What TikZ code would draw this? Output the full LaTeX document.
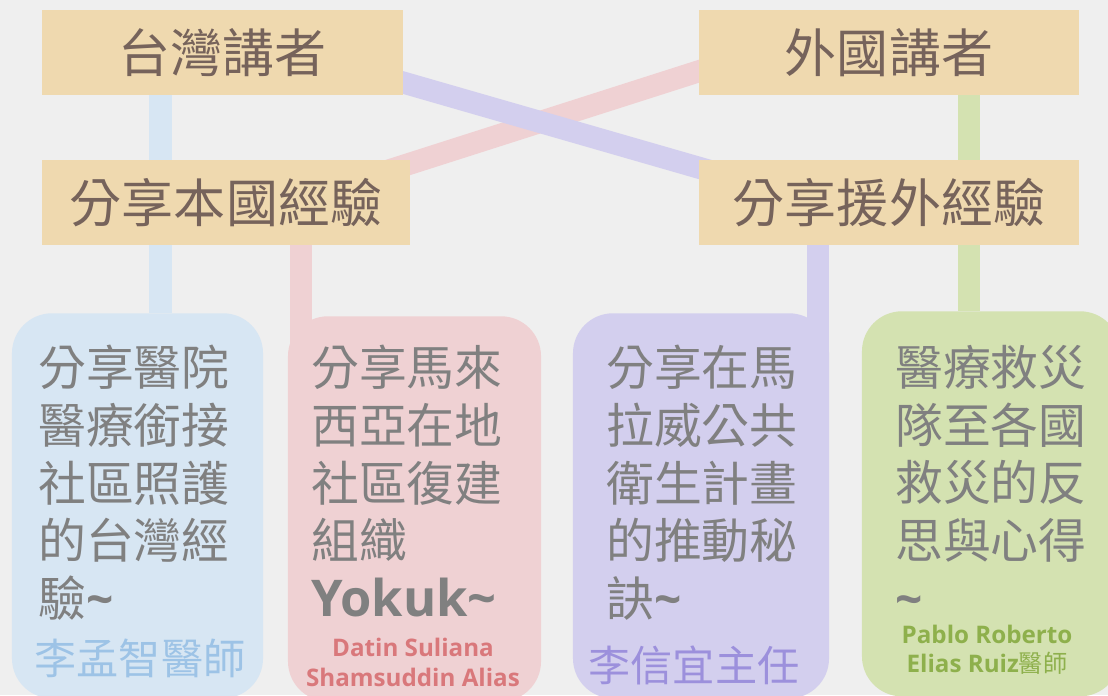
\documentclass[tikz,border=0pt]{standalone}
\usepackage{fontspec}
\newfontfamily\cjk{Noto Sans CJK TC}
\newfontfamily\latin{Open Sans}
\usetikzlibrary{backgrounds}

\definecolor{bgcol}{HTML}{EFEFEF}
\definecolor{beige}{HTML}{EFD9AF}
\definecolor{titletext}{HTML}{76635B}
\definecolor{desctext}{HTML}{808080}
\definecolor{bluebox}{HTML}{D7E6F3}
\definecolor{bluename}{HTML}{9DC3E6}
\definecolor{redbox}{HTML}{EFD1D3}
\definecolor{redname}{HTML}{D9787B}
\definecolor{purplebox}{HTML}{D3CFEE}
\definecolor{purplename}{HTML}{9C90DC}
\definecolor{greenbox}{HTML}{D4E2B1}
\definecolor{greenname}{HTML}{8EB04C}

\newcommand\wavemark{{\latin\bfseries\textasciitilde}}

\tikzset{
  topic/.style={fill=beige, text=titletext, inner sep=0pt,
                minimum height=2.125cm, font=\cjk\fontsize{37}{44}\selectfont},
  talk/.style={fill=#1, rounded corners=1cm, anchor=north, minimum height=9.625cm},
  link/.style={draw=#1, line width=0.55cm},
  desc/.style={text=desctext, anchor=north west, align=left, inner sep=0pt,
               font=\cjk\fontsize{34}{41}\selectfont},
  speaker/.style={align=center, inner sep=0pt}
}

\begin{document}
\begin{tikzpicture}[x=0.025cm, y=-0.025cm]
  \useasboundingbox (0,0) rectangle (1108,695);
  % Speakers and topics
  \node[topic, minimum width=9.025cm] (tw)   at (222.5,52.5)  {台灣講者};
  \node[topic, minimum width=9.5cm]   (fg)   at (889,52.5)    {外國講者};
  \node[topic, minimum width=9.2cm]   (home) at (226,202.5)   {分享本國經驗};
  \node[topic, minimum width=9.5cm]   (aid)  at (889,202.5)   {分享援外經驗};
  % Talks
  \node[talk=bluebox,   minimum width=6.275cm] (t1) at (137.5,313) {};
  \node[talk=redbox,    minimum width=6.325cm] (t2) at (414.5,316) {};
  \node[talk=purplebox, minimum width=6.4cm]   (t3) at (701,313)   {};
  \node[talk=greenbox,  minimum width=6.45cm]  (t4) at (991,311)   {};
  \node[desc] (d1) at (38,345)  {分享醫院\\醫療銜接\\社區照護\\的台灣經\\驗\wavemark};
  \node[desc] (d2) at (311,345) {分享馬來\\西亞在地\\社區復建\\組織\\%
        {\latin\bfseries\fontsize{36}{41}\selectfont Yokuk\textasciitilde}};
  \node[desc] (d3) at (606,345) {分享在馬\\拉威公共\\衛生計畫\\的推動秘\\訣\wavemark};
  \node[desc] (d4) at (895,345) {醫療救災\\隊至各國\\救災的反\\思與心得\\\wavemark};
  \node[speaker, text=bluename, font=\cjk\fontsize{30}{36}\selectfont]
        (s1) at (140,658) {李孟智醫師};
  \node[speaker, text=redname, font=\latin\bfseries\fontsize{17.2}{21.3}\selectfont]
        (s2) at (413,662) {Datin Suliana\\Shamsuddin Alias};
  \node[speaker, text=purplename, font=\cjk\fontsize{30}{36}\selectfont]
        (s3) at (694,665) {李信宜主任};
  \node[speaker, text=greenname, font=\latin\bfseries\fontsize{17.2}{20.6}\selectfont]
        (s4) at (987,650) {Pablo Roberto\\Elias Ruiz{\cjk\mdseries 醫師}};
  % Connectors behind the boxes
  \coordinate (bluex)   at (160.5,0);
  \coordinate (redx)    at (301,0);
  \coordinate (purplex) at (818,0);
  \coordinate (greenx)  at (969,0);
  \begin{pgfonlayer}{background}
    \fill[bgcol] (0,0) rectangle (1108,695);
    \draw[link=bluebox]   (tw.south -| bluex) -- (t1.north -| bluex);
    \draw[link=greenbox]  (fg.south -| greenx) -- (t4.north -| greenx);
    \draw[link=redbox]    ([xshift=1cm,yshift=-0.15cm]fg.west) -- ([yshift=-0.5cm]home.center);
    \draw[link=purplebox] ([yshift=0.55cm]tw.center) -- ([yshift=-0.5cm]aid.center);
    \draw[link=redbox]    (home.south -| redx) -- ([yshift=-1.5cm]t2.north -| redx);
    \draw[link=purplebox] (aid.south -| purplex) -- ([yshift=-1.5cm]t3.north -| purplex);
  \end{pgfonlayer}
\end{tikzpicture}
\end{document}
